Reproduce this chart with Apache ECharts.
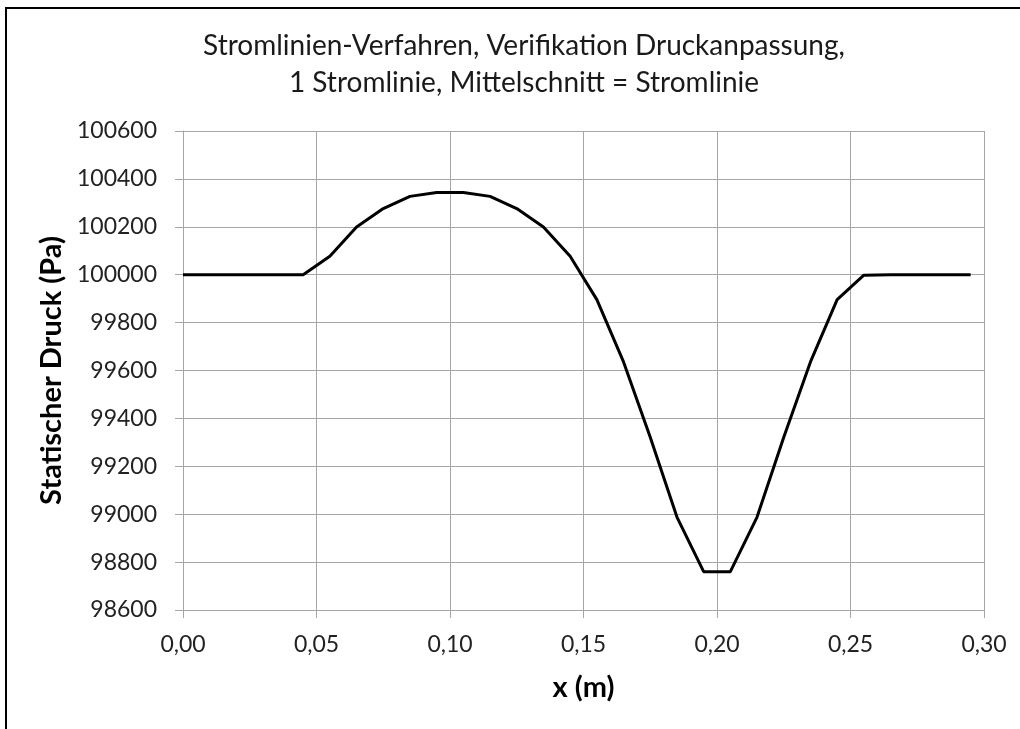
<!DOCTYPE html>
<html>
<head>
<meta charset="utf-8">
<script src="https://cdn.jsdelivr.net/npm/echarts@6/dist/echarts.min.js"></script>
<style>
  html, body { margin: 0; padding: 0; background: #fff; }
  #chart { width: 1020px; height: 729px; }
</style>
</head>
<body>
<div id="chart"></div>
<script>
const TITLE_LINES = [
  'Stromlinien-Verfahren, Verifikation Druckanpassung,',
  '1 Stromlinie, Mittelschnitt = Stromlinie'
]
const X_NAME = 'x (m)'
const Y_NAME = 'Statischer Druck (Pa)'

const xValues = [
  0, 0.005, 0.015, 0.025, 0.035, 0.045, 0.055, 0.065, 0.075, 0.085,
  0.095, 0.105, 0.115, 0.125, 0.135, 0.145, 0.155, 0.165, 0.175, 0.185,
  0.195, 0.205, 0.215, 0.225, 0.235, 0.245, 0.255, 0.265, 0.275, 0.285, 0.295
]
const pressure = [
  100000, 100000, 100000, 100000, 100000, 100000, 100077, 100199, 100276, 100327,
  100343, 100343, 100327, 100276, 100199, 100077, 99896, 99636, 99321, 98988,
  98760, 98760, 98988, 99321, 99636, 99896, 99998, 100000, 100000, 100000, 100000
]

const FONT = 'Lato'
const GRID_COLOR = '#a6a6a6'

const chart = echarts.init(document.getElementById('chart'), null, { renderer: 'canvas' })

chart.setOption({
  animation: false,
  backgroundColor: '#fff',
  title: {
    text: TITLE_LINES.join('\n'),
    left: 519,
    top: 22,
    textAlign: 'center',
    textStyle: {
      fontFamily: FONT,
      fontSize: 28,
      fontWeight: 'normal',
      color: '#1a1a1a',
      lineHeight: 37
    }
  },
  graphic: [{
    type: 'rect',
    shape: { x: 6, y: 8, width: 1100, height: 800 },
    style: { fill: 'none', stroke: '#000', lineWidth: 2 },
    silent: true
  }],
  grid: { left: 183, right: 36, top: 131, bottom: 119 },
  xAxis: {
    type: 'value',
    min: 0,
    max: 0.3,
    interval: 0.05,
    name: X_NAME,
    nameLocation: 'middle',
    nameGap: 63,
    nameTextStyle: { fontFamily: FONT, fontSize: 29, fontWeight: 'bold', color: '#000' },
    axisLine: { show: true, lineStyle: { color: GRID_COLOR, width: 1 } },
    axisTick: { show: true, inside: false, length: 8, lineStyle: { color: GRID_COLOR } },
    splitLine: { show: true, lineStyle: { color: GRID_COLOR, width: 1 } },
    axisLabel: {
      margin: 23,
      fontFamily: FONT,
      fontSize: 23,
      color: '#222',
      formatter: v => v.toFixed(2).replace('.', ',')
    }
  },
  yAxis: {
    type: 'value',
    min: 98600,
    max: 100600,
    interval: 200,
    name: Y_NAME,
    nameLocation: 'middle',
    nameGap: 111,
    nameTextStyle: { fontFamily: FONT, fontSize: 29, fontWeight: 'bold', color: '#000' },
    axisLine: { show: true, lineStyle: { color: GRID_COLOR, width: 1 } },
    axisTick: { show: true, inside: false, length: 8, lineStyle: { color: GRID_COLOR } },
    splitLine: { show: true, lineStyle: { color: GRID_COLOR, width: 1 } },
    axisLabel: {
      margin: 26,
      fontFamily: FONT,
      fontSize: 23,
      color: '#222',
      formatter: v => String(v)
    }
  },
  series: [{
    type: 'line',
    data: xValues.map((x, i) => [x, pressure[i]]),
    showSymbol: false,
    lineStyle: { color: '#000', width: 3 },
    itemStyle: { color: '#000' }
  }]
})
</script>
</body>
</html>
